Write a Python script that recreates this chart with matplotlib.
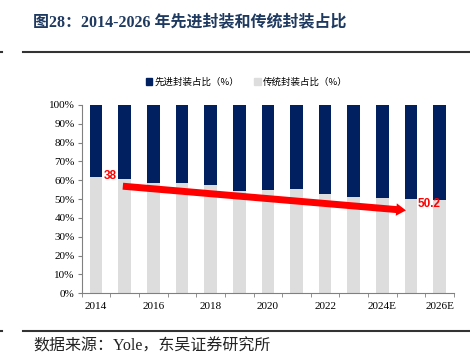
import matplotlib
matplotlib.use("Agg")
import matplotlib.pyplot as plt
from matplotlib.patches import FancyArrowPatch, Patch
import numpy as np

plt.rcParams['font.family'] = ['Liberation Serif', 'Noto Sans CJK SC', 'DejaVu Sans']

years = ['2014', '2015', '2016', '2017', '2018', '2019', '2020', '2021', '2022',
         '2023', '2024E', '2025E', '2026E']
advanced = [38.3, 39.5, 41.6, 41.6, 42.5, 45.8, 45.1, 44.8, 47.4, 49.0, 49.6, 50.1, 50.2]
traditional = [100 - v for v in advanced]
series_names = ['先进封装占比（%）', '传统封装占比（%）']
label_texts = ['38', '50.2']

navy = '#002060'
gray = '#dddddd'
W, H = 470, 364

fig = plt.figure(figsize=(W / 100, H / 100), dpi=100)
ax = fig.add_axes([81.7 / W, 1 - 293.3 / H, (454 - 81.7) / W, (293.3 - 105) / H])

x = np.arange(len(years))
ax.bar(x, traditional, width=0.44, color=gray, zorder=2)
ax.bar(x, advanced, width=0.44, bottom=traditional, color=navy, zorder=2)

ax.set_xlim(-0.5, len(years) - 0.5)
ax.set_ylim(0, 100)
ax.set_yticks(np.arange(0, 101, 10))
ax.set_yticklabels([f'{v}%' for v in range(0, 101, 10)], fontsize=8)
ax.set_xticks(x[::2])
ax.set_xticklabels(years[::2], fontsize=8)
ax.set_xticks(np.arange(-0.5, len(years), 1), minor=True)
ax.tick_params(axis='x', which='major', length=0, pad=6)
ax.tick_params(axis='x', which='minor', length=3, color='#808080', direction='out')
ax.tick_params(axis='y', length=3, color='#808080', direction='out', pad=2)
for s in ['top', 'right']:
    ax.spines[s].set_visible(False)
for s in ['left', 'bottom']:
    ax.spines[s].set_color('#808080')
    ax.spines[s].set_linewidth(0.8)

# trend arrow
arrow = FancyArrowPatch((0.84, 57.0), (10.92, 43.9),
                        arrowstyle='simple,head_width=9,head_length=7,tail_width=5',
                        mutation_scale=1, color='#ff0000', lw=0, zorder=4)
ax.add_patch(arrow)
ax.text(0.49, 62.3, label_texts[0], color='#ff0000', fontsize=8.5, fontweight='bold',
        family='Liberation Sans', ha='center', va='center', zorder=5)
ax.text(11.64, 47.4, label_texts[1], color='#ff0000', fontsize=8.5, fontweight='bold',
        family='Liberation Sans', ha='center', va='center', zorder=5)

# legend
handles = [Patch(color=navy), Patch(color=gray)]
fig.legend(handles, series_names, loc='center', bbox_to_anchor=(0.5245, 1 - 82 / H),
           ncol=2, frameon=False, handlelength=0.7, handleheight=0.7,
           handletextpad=0.2, columnspacing=1.6,
           prop={'family': 'Noto Sans CJK SC', 'size': 6.8})

# title and source
fig.text(33 / W, 1 - 22.5 / H, '图28：2014-2026 年先进封装和传统封装占比', fontsize=11.5,
         fontweight='bold', color='#1f3a60', ha='left', va='center',
         family=['Liberation Serif', 'Noto Sans CJK SC'])
fig.text(33 / W, 1 - 347 / H, '数据来源：Yole，东吴证券研究所', fontsize=11.5,
         color='#222222', ha='left', va='center',
         family=['Liberation Serif', 'Noto Sans CJK SC'])

for yy in [52.3, 331]:
    fig.add_artist(plt.Line2D([23 / W, 1], [1 - yy / H] * 2, color='#333333', lw=1.5))
    fig.add_artist(plt.Line2D([0, 2 / W], [1 - yy / H] * 2, color='#333333', lw=1.5))

fig.savefig('out.png', dpi=100)
